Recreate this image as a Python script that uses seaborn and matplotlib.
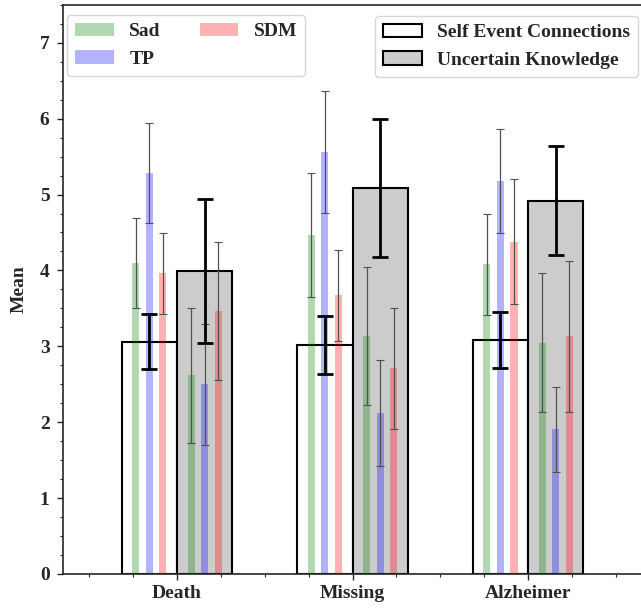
import numpy as np
import pandas as pd
import matplotlib
matplotlib.use("Agg")
import matplotlib.pyplot as plt
from matplotlib.patches import Patch
from matplotlib.ticker import MultipleLocator
import seaborn as sns

# --- data ---
groups = ["Death", "Missing", "Alzheimer"]
conditions = ["Self Event Connections", "Uncertain Knowledge"]

# wide bars (mean, error) per condition
self_mean = [3.06, 3.02, 3.08]
self_err = [0.36, 0.38, 0.37]
unc_mean = [3.99, 5.09, 4.92]
unc_err = [0.95, 0.91, 0.72]

# thin bars inside "Self Event Connections"
emotions = ["Sad", "TP", "SDM"]
emo_colors = ["green", "blue", "red"]
self_sad = [4.10, 4.47, 4.08]
self_sad_err = [0.59, 0.82, 0.67]
self_tp = [5.28, 5.56, 5.18]
self_tp_err = [0.66, 0.80, 0.69]
self_sdm = [3.96, 3.67, 4.38]
self_sdm_err = [0.53, 0.60, 0.82]

# thin bars inside "Uncertain Knowledge"
unc_sad = [2.62, 3.14, 3.05]
unc_sad_err = [0.89, 0.91, 0.92]
unc_tp = [2.50, 2.12, 1.91]
unc_tp_err = [0.80, 0.70, 0.56]
unc_sdm = [3.47, 2.71, 3.13]
unc_sdm_err = [0.91, 0.80, 1.00]

# --- style ---
sns.set_style("ticks")
plt.rcParams["font.family"] = ["Liberation Serif", "DejaVu Serif"]
plt.rcParams["font.weight"] = "bold"
plt.rcParams["axes.labelweight"] = "bold"
plt.rcParams["axes.linewidth"] = 1.2
plt.rcParams["xtick.direction"] = "out"
plt.rcParams["ytick.direction"] = "out"

fig, ax = plt.subplots(figsize=(6.41, 6.08), dpi=100)
fig.subplots_adjust(left=0.098, right=1.002, bottom=0.056, top=0.992)

df = pd.DataFrame({
    "group": groups * 2,
    "condition": [conditions[0]] * 3 + [conditions[1]] * 3,
    "mean": self_mean + unc_mean,
})

wide_w = 0.63
sns.barplot(data=df, x="group", y="mean", hue="condition", order=groups,
            hue_order=conditions, palette={conditions[0]: "white", conditions[1]: "#cccccc"},
            saturation=1, width=wide_w, errorbar=None, edgecolor="black",
            linewidth=1.5, legend=False, ax=ax, zorder=1)

x = np.arange(len(groups))
off = wide_w / 4
thin_w = 0.04
step = 0.077

sets = [
    (-off, [self_sad, self_tp, self_sdm], [self_sad_err, self_tp_err, self_sdm_err]),
    (off, [unc_sad, unc_tp, unc_sdm], [unc_sad_err, unc_tp_err, unc_sdm_err]),
]
for center, vals, errs in sets:
    for k, (v, e, c) in enumerate(zip(vals, errs, emo_colors)):
        xs = x + center + (k - 1) * step
        ax.bar(xs, v, width=thin_w, color=c, alpha=0.3, linewidth=0, zorder=2)
        eb = ax.errorbar(xs, v, yerr=e, fmt="none", ecolor="#505050", elinewidth=0.9,
                         capsize=2.9, capthick=0.8, zorder=2.5)
        for cap in eb.lines[1]:
            cap.set_color("#cfcfcf")

ax.errorbar(x - off, self_mean, yerr=self_err, fmt="none", ecolor="black",
            elinewidth=2, capsize=5.5, capthick=2, zorder=3)
ax.errorbar(x + off, unc_mean, yerr=unc_err, fmt="none", ecolor="black",
            elinewidth=2, capsize=5.5, capthick=2, zorder=3)

ax.set_xlim(-0.65, 2.65)
ax.set_ylim(0, 7.5)
ax.set_xticks(x)
ax.set_xticklabels(groups, fontsize=14, fontweight="bold")
ax.xaxis.set_minor_locator(MultipleLocator(0.25))
ax.yaxis.set_major_locator(MultipleLocator(1))
ax.yaxis.set_minor_locator(MultipleLocator(0.25))
ax.tick_params(axis="y", labelsize=14, pad=5)
ax.tick_params(which="major", length=4.5, width=1)
ax.tick_params(which="minor", length=2.5, width=0.8)
for lab in ax.get_yticklabels():
    lab.set_fontweight("bold")
ax.set_xlabel("")
ax.set_ylabel("Mean", fontsize=14, fontweight="bold", labelpad=9)

emo_handles = [Patch(facecolor=c, alpha=0.3, linewidth=0) for c in emo_colors]
leg1 = ax.legend(emo_handles, emotions, ncol=2, loc="upper left",
                 bbox_to_anchor=(67 / 641, 1 - 15 / 608), bbox_transform=fig.transFigure,
                 borderaxespad=0, prop={"size": 14, "weight": "bold"})
ax.add_artist(leg1)

cond_handles = [Patch(facecolor="white", edgecolor="black", linewidth=1.5),
                Patch(facecolor="#cccccc", edgecolor="black", linewidth=1.5)]
ax.legend(cond_handles, conditions, loc="upper right",
          bbox_to_anchor=(638 / 641, 1 - 16 / 608), bbox_transform=fig.transFigure,
          borderaxespad=0, prop={"size": 14, "weight": "bold"})

fig.savefig("out.png", dpi=100)
